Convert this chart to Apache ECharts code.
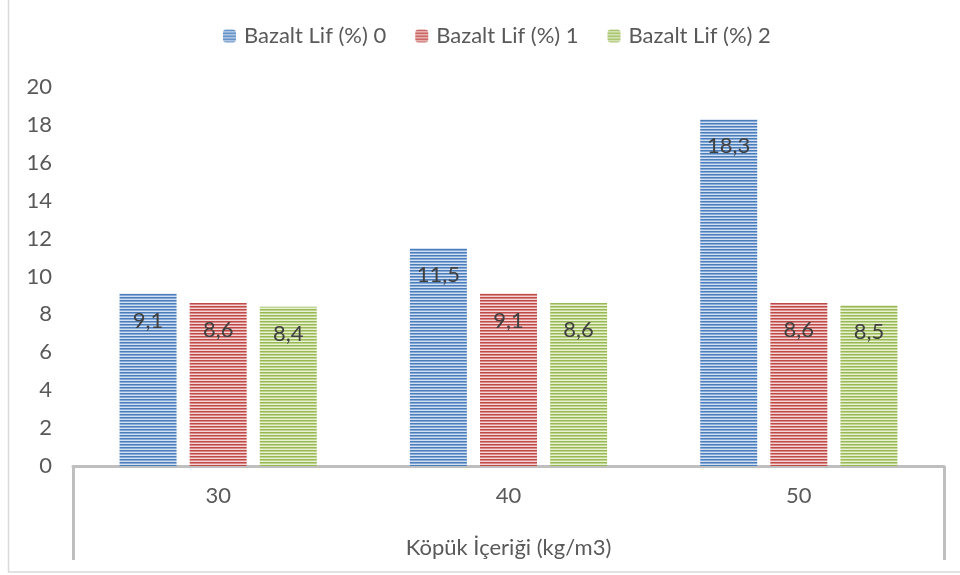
<!DOCTYPE html>
<html><head><meta charset="utf-8">
<script src="https://cdn.jsdelivr.net/npm/echarts@6/dist/echarts.min.js"></script>
<style>html,body{margin:0;padding:0;background:#fff}#c{width:960px;height:575px}</style>
</head><body><div id="c"></div>
<script>
const categories = ['30', '40', '50'];
const seriesNames = ['Bazalt Lif (%) 0', 'Bazalt Lif (%) 1', 'Bazalt Lif (%) 2'];
const lif0 = [9.1, 11.5, 18.3];
const lif1 = [8.6, 9.1, 8.6];
const lif2 = [8.4, 8.6, 8.5];
const yTicks = [0, 2, 4, 6, 8, 10, 12, 14, 16, 18, 20];
const axisName = 'Köpük İçeriği (kg/m3)';

function stripes(dark, mid, light) {
  const c = document.createElement('canvas');
  c.width = 4; c.height = 3;
  const g = c.getContext('2d');
  g.fillStyle = dark; g.fillRect(0, 0, 4, 1);
  g.fillStyle = mid; g.fillRect(0, 1, 4, 1);
  g.fillStyle = light; g.fillRect(0, 2, 4, 1);
  return { image: c, repeat: 'repeat' };
}
const fills = [
  stripes('#4a7ebb', '#86a9d8', '#d3e0f1'),
  stripes('#be4b48', '#da8a88', '#f3d6d5'),
  stripes('#98b954', '#bfd48f', '#e8f0d6')
];
const values = [lif0, lif1, lif2];
const font = 'Lato, "Open Sans", sans-serif';
const fs = 22;

const chart = echarts.init(document.getElementById('c'), null, { renderer: 'canvas' });
chart.setOption({
  animation: false,
  backgroundColor: '#fff',
  textStyle: { fontFamily: font },
  graphic: [{
    type: 'rect', shape: { x: 8.5, y: -5, width: 960, height: 577 },
    style: { fill: 'none', stroke: '#d9d9d9', lineWidth: 1.5 }, silent: true
  }],
  legend: {
    top: 20, left: 218, itemWidth: 13, itemHeight: 13, itemGap: 29,
    textStyle: { color: '#595959', fontSize: fs, fontFamily: font, padding: [0, 0, 0, 3] },
    data: seriesNames
  },
  grid: { left: 73, right: 16, top: 87, bottom: 109 },
  xAxis: [{
    type: 'category', data: categories,
    axisLine: { lineStyle: { color: '#bfbfbf', width: 3 } },
    axisTick: { show: false },
    axisLabel: { color: '#595959', fontSize: fs, margin: 19, fontFamily: font }
  }, {
    type: 'category', data: [''], position: 'bottom', boundaryGap: true,
    axisLine: { show: false },
    axisTick: { show: true, length: 94, lineStyle: { color: '#bfbfbf', width: 3 } },
    axisLabel: { show: false },
    name: axisName, nameLocation: 'middle', nameGap: 71,
    nameTextStyle: { color: '#595959', fontSize: fs, fontFamily: font }
  }],
  yAxis: {
    type: 'value', min: yTicks[0], max: yTicks[yTicks.length - 1], interval: 2,
    axisLine: { show: false }, axisTick: { show: false }, splitLine: { show: false },
    axisLabel: { color: '#595959', fontSize: fs, margin: 21, fontFamily: font }
  },
  series: values.map((v, i) => ({
    name: seriesNames[i], type: 'bar', data: v, xAxisIndex: 0,
    barWidth: 57, barGap: '23%',
    itemStyle: { color: fills[i] },
    label: {
      show: true, position: 'insideTop', distance: 16,
      color: '#404040', fontSize: fs, fontFamily: font,
      formatter: p => String(p.value).replace('.', ',')
    }
  }))
});
</script></body></html>
